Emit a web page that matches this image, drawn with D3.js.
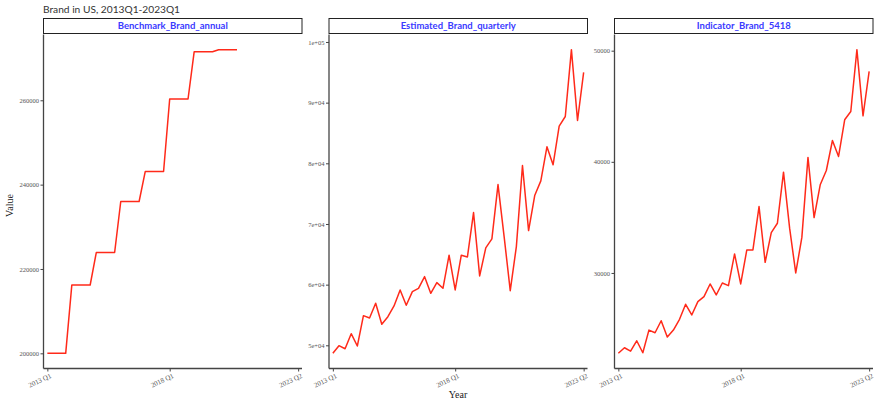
<!DOCTYPE html>
<html>
<head>
<meta charset="utf-8">
<script src="https://cdn.jsdelivr.net/npm/d3@7"></script>
<style>
  html, body { margin: 0; padding: 0; background: #fff; }
  svg { display: block; }
</style>
</head>
<body>
<svg id="chart" width="878" height="403"></svg>
<script>
// Quarter index 0 = 2013 Q1
const xTickPos = [0, 20, 41];
const xTickLabels = ["2013 Q1", "2018 Q1", "2023 Q2"];

// Annual benchmark, held flat across each year's quarters (2013 Q1 - 2020 Q4)
const benchmarkAnnual = [
  200000, 200000, 200000, 200000,
  216200, 216200, 216200, 216200,
  223900, 223900, 223900, 223900,
  236000, 236000, 236000, 236000,
  243100, 243100, 243100, 243100,
  260300, 260300, 260300, 260300,
  271500, 271500, 271500, 271500,
  272000, 272000, 272000, 272000
];

// Quarterly estimate (2013 Q1 - 2023 Q2)
const estimatedQuarterly = [
  48680, 49940, 49440, 51920, 49880, 54890, 54500, 56930, 53460, 54720,
  56490, 59130, 56600, 58850, 59400, 61320, 58580, 60330, 59400, 64850,
  59130, 64850, 64570, 71880, 61440, 66060, 67540, 76500, 67920, 59010,
  66270, 79640, 68910, 74690, 77110, 82720, 79750, 86140, 87720, 98730,
  87060, 94980
];

// Indicator series (2013 Q1 - 2023 Q2)
const indicator5418 = [
  22770, 23270, 22970, 23900, 22820, 24860, 24620, 25700, 24230, 24860,
  25830, 27180, 26220, 27420, 27870, 29010, 28020, 29100, 28860, 31710,
  29010, 32070, 32070, 35970, 30960, 33630, 34470, 39070, 34030, 30000,
  33200, 40400, 34980, 37930, 39220, 41920, 40480, 43780, 44530, 50090,
  44140, 48140
];

const panelNames = ["Benchmark_Brand_annual", "Estimated_Brand_quarterly", "Indicator_Brand_5418"];
const yTicks1 = [200000, 220000, 240000, 260000];
const yTickLabels1 = ["200000", "220000", "240000", "260000"];
const yTicks2 = [50000, 60000, 70000, 80000, 90000, 100000];
const yTickLabels2 = ["5e+04", "6e+04", "7e+04", "8e+04", "9e+04", "1e+05"];
const yTicks3 = [30000, 40000, 50000];
const yTickLabels3 = ["30000", "40000", "50000"];

const panels = [
  { name: panelNames[0], values: benchmarkAnnual, ticks: yTicks1, labels: yTickLabels1, left: 43.5 },
  { name: panelNames[1], values: estimatedQuarterly, ticks: yTicks2, labels: yTickLabels2, left: 329 },
  { name: panelNames[2], values: indicator5418, ticks: yTicks3, labels: yTickLabels3, left: 614.5 }
];

const svg = d3.select("#chart");
const panelW = 258.5;
const plotTop = 34.5, plotBottom = 368.5;
const stripTop = 18.5;
const serif = "'Liberation Serif', 'DejaVu Serif', serif";
const sans = "Lato, 'Open Sans', sans-serif";

svg.append("text")
  .attr("x", 43).attr("y", 13)
  .attr("font-family", sans).attr("font-size", 10.2)
  .attr("fill", "#333")
  .text("Brand in US, 2013Q1-2023Q1");

panels.forEach(p => {
  const g = svg.append("g");
  const x = d3.scaleLinear().domain([-0.63, 41.63]).range([p.left, p.left + panelW]);
  const [lo, hi] = d3.extent(p.values);
  const pad = (hi - lo) * 0.05;
  const y = d3.scaleLinear().domain([lo - pad, hi + pad]).range([plotBottom, plotTop]);

  // strip
  g.append("rect")
    .attr("x", p.left).attr("y", stripTop)
    .attr("width", panelW).attr("height", plotTop - stripTop - 1)
    .attr("fill", "#fff").attr("stroke", "#222").attr("stroke-width", 1);
  g.append("text")
    .attr("x", p.left + panelW / 2).attr("y", stripTop + 10.5)
    .attr("text-anchor", "middle")
    .attr("font-family", sans).attr("font-weight", "bold").attr("font-size", 9.5)
    .attr("fill", "#3a3aff")
    .text(p.name);

  // y axis
  const yAxis = d3.axisLeft(y).tickValues(p.ticks)
    .tickFormat((d, i) => p.labels[i]).tickSizeOuter(0).tickSize(3).tickPadding(1.5);
  const ya = g.append("g").attr("transform", `translate(${p.left},0)`).call(yAxis);
  ya.select(".domain").attr("stroke", "#444").attr("stroke-width", 1.3)
    .attr("d", `M0,${plotTop}V${plotBottom}`);
  ya.selectAll(".tick line").attr("stroke", "#444");
  ya.selectAll(".tick text").attr("font-family", serif).attr("font-size", 6.5).attr("fill", "#555");

  // x axis
  const xAxis = d3.axisBottom(x).tickValues(xTickPos)
    .tickFormat((d, i) => xTickLabels[i]).tickSizeOuter(0).tickSize(3);
  const xa = g.append("g").attr("transform", `translate(0,${plotBottom})`).call(xAxis);
  xa.select(".domain").attr("stroke", "#444").attr("stroke-width", 1.3)
    .attr("d", `M${p.left},0H${p.left + panelW}`);
  xa.selectAll(".tick line").attr("stroke", "#444");
  xa.selectAll(".tick text")
    .attr("font-family", serif).attr("font-size", 7).attr("fill", "#555")
    .attr("text-anchor", "end")
    .attr("dy", null).attr("y", 0)
    .attr("transform", "translate(4,9) rotate(-25)");

  // series
  const line = d3.line().x((d, i) => x(i)).y(d => y(d));
  g.append("path")
    .datum(p.values)
    .attr("d", line)
    .attr("fill", "none")
    .attr("stroke", "#ff2a1a")
    .attr("stroke-width", 1.5)
    .attr("stroke-linejoin", "round");
});

svg.append("text")
  .attr("transform", `translate(13,${(plotTop + plotBottom) / 2 + 4}) rotate(-90)`)
  .attr("text-anchor", "middle")
  .attr("font-family", serif).attr("font-size", 10)
  .attr("fill", "#222")
  .text("Value");

svg.append("text")
  .attr("x", 458).attr("y", 398)
  .attr("text-anchor", "middle")
  .attr("font-family", serif).attr("font-size", 10)
  .attr("fill", "#222")
  .text("Year");
</script>
</body>
</html>
